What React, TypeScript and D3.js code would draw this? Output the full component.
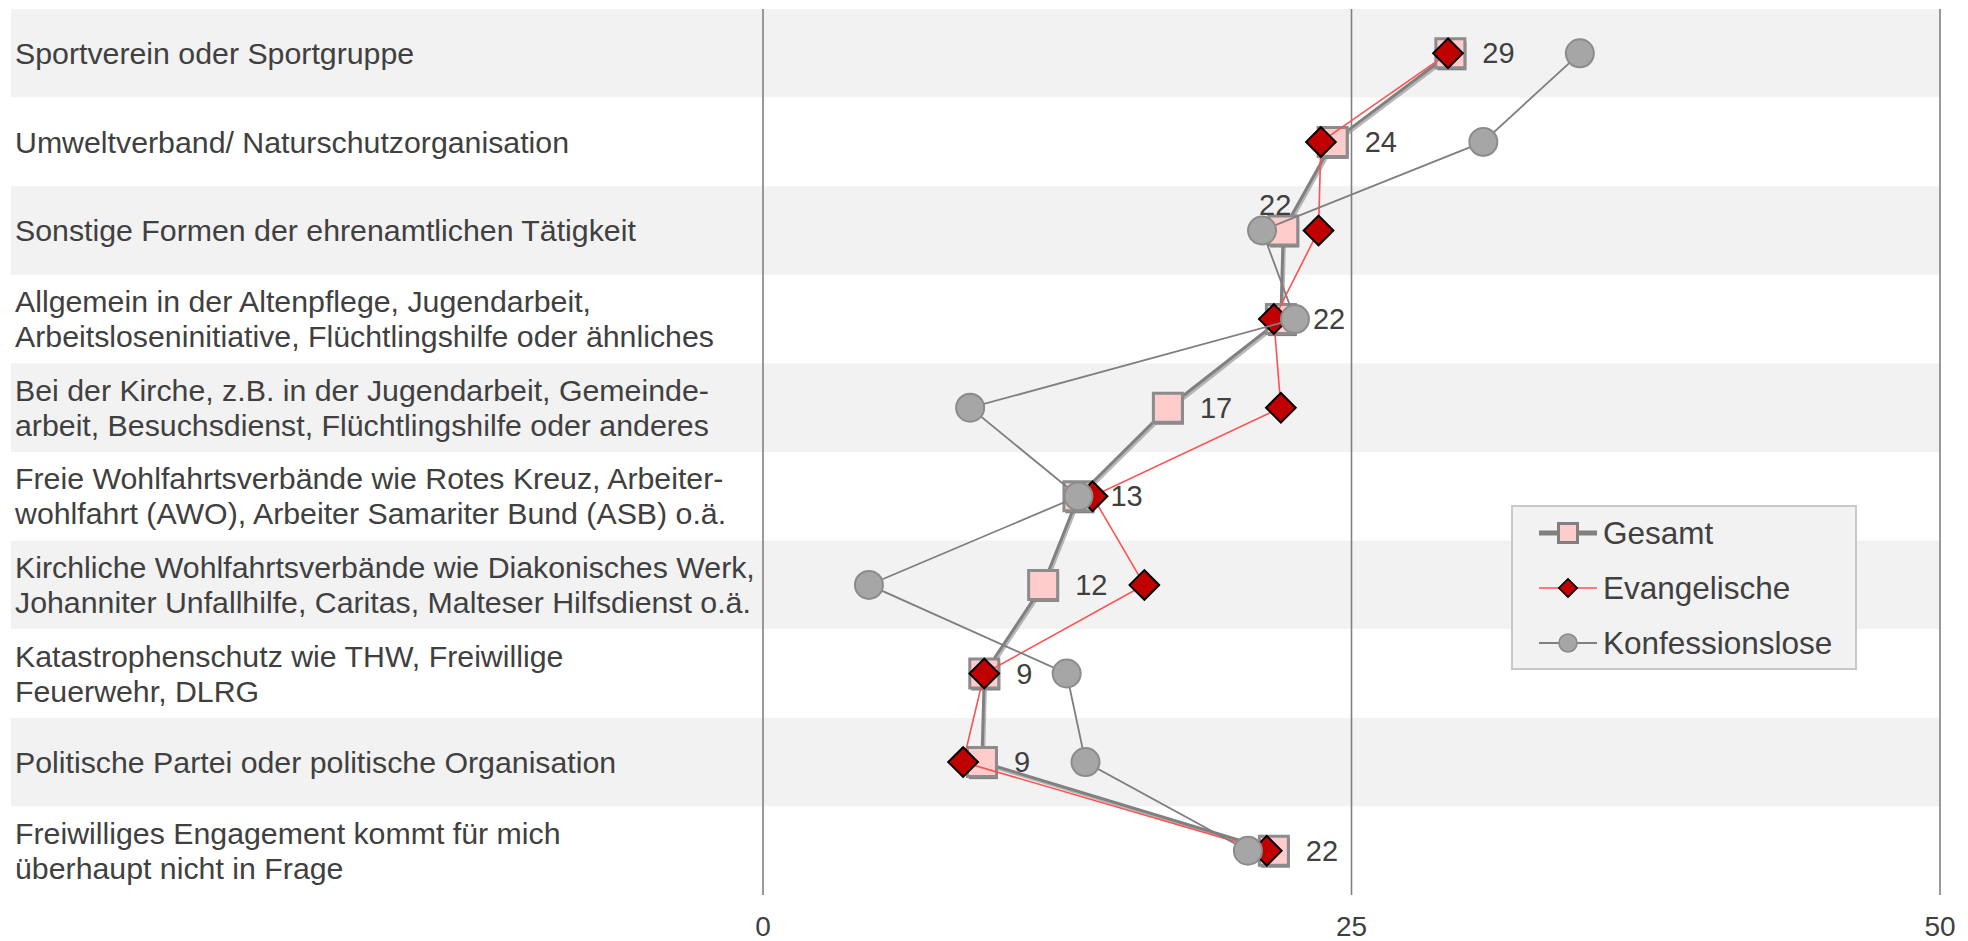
import React from 'react';
import * as d3 from 'd3';

// categories top to bottom, '\n' marks the line break of the axis label
const categories = [
  'Sportverein oder Sportgruppe',
  'Umweltverband/ Naturschutzorganisation',
  'Sonstige Formen der ehrenamtlichen Tätigkeit',
  'Allgemein in der Altenpflege, Jugendarbeit,\nArbeitsloseninitiative, Flüchtlingshilfe oder ähnliches',
  'Bei der Kirche, z.B. in der Jugendarbeit, Gemeinde-\narbeit, Besuchsdienst, Flüchtlingshilfe oder anderes',
  'Freie Wohlfahrtsverbände wie Rotes Kreuz, Arbeiter-\nwohlfahrt (AWO), Arbeiter Samariter Bund (ASB) o.ä.',
  'Kirchliche Wohlfahrtsverbände wie Diakonisches Werk,\nJohanniter Unfallhilfe, Caritas, Malteser Hilfsdienst o.ä.',
  'Katastrophenschutz wie THW, Freiwillige\nFeuerwehr, DLRG',
  'Politische Partei oder politische Organisation',
  'Freiwilliges Engagement kommt für mich\nüberhaupt nicht in Frage',
];

const gesamt = [29.2, 24.2, 22.1, 22.0, 17.2, 13.4, 11.9, 9.4, 9.3, 21.7];
const evangelische = [29.1, 23.7, 23.6, 21.7, 22.0, 14.0, 16.2, 9.4, 8.5, 21.4];
const konfessionslose = [34.7, 30.6, 21.2, 22.6, 8.8, 13.4, 4.5, 12.9, 13.7, 20.6];

const xTicks = [0, 25, 50];
const seriesNames = ['Gesamt', 'Evangelische', 'Konfessionslose'];

const W = 1968;
const H = 941;
const FONT = '"Liberation Sans", Arial, sans-serif';
const TEXT = '#404040';

const x = d3.scaleLinear().domain([0, 50]).range([763, 1940]);
const y = d3.scaleBand<number>().domain(d3.range(categories.length)).range([9, 895]).padding(0);
const cy = (i: number) => (y(i) as number) + y.bandwidth() / 2;

const lineFor = (vals: number[]) =>
  d3.line<number>().x(d => x(d)).y((d, i) => cy(i))(vals) as string;

const squarePath = d3.symbol().type(d3.symbolSquare).size(29 * 29)() as string;
const diamondPath = d3.symbol().type(d3.symbolSquare).size(21 * 21)() as string;
const smallSquare = d3.symbol().type(d3.symbolSquare).size(19 * 19)() as string;
const smallDiamond = d3.symbol().type(d3.symbolSquare).size(13 * 13)() as string;

const App: React.FC = () => {
  const bw = y.bandwidth();
  return (
    <svg width={W} height={H} style={{ position: 'absolute', left: 0, top: 0, display: 'block' }} fontFamily={FONT}>
      <rect width={W} height={H} fill="#ffffff" />
      {/* row bands */}
      {categories.map((c, i) => (
        <rect key={'b' + i} x={11} y={y(i)} width={x(50) - 11} height={bw} fill={i % 2 === 0 ? '#f2f2f2' : '#ffffff'} />
      ))}
      {/* vertical grid */}
      {xTicks.map(t => (
        <line key={'g' + t} x1={x(t)} x2={x(t)} y1={9} y2={895} stroke="#808080" strokeWidth={1.6} />
      ))}
      {xTicks.map(t => (
        <text key={'t' + t} x={x(t)} y={936} textAnchor="middle" fontSize={28} fill={TEXT}>{t}</text>
      ))}
      {/* category labels */}
      {categories.map((c, i) => {
        const lines = c.split('\n');
        const lh = 35;
        const start = cy(i) - ((lines.length - 1) * lh) / 2;
        return (
          <text key={'c' + i} fontSize={30.3} fill={TEXT}>
            {lines.map((l, j) => (
              <tspan key={j} x={15} y={start + j * lh} dy="0.35em">{l}</tspan>
            ))}
          </text>
        );
      })}

      {/* Gesamt */}
      <g transform="translate(1.5,2)">
        <path d={lineFor(gesamt)} fill="none" stroke="#9a9a9a" strokeWidth={3} opacity={0.7} />
      </g>
      <path d={lineFor(gesamt)} fill="none" stroke="#808080" strokeWidth={3} />
      {gesamt.map((v, i) => (
        <g key={'gs' + i} transform={`translate(${x(v)},${cy(i)})`}>
          <path d={squarePath} transform="translate(1.5,2.5)" fill="#7f7f7f" />
          <path d={squarePath} fill="#ffcccc" stroke="#8c8c8c" strokeWidth={3} />
        </g>
      ))}

      {/* Evangelische */}
      <path d={lineFor(evangelische)} fill="none" stroke="#ff5050" strokeWidth={1.6} />
      {evangelische.map((v, i) => (
        <path key={'ev' + i} d={diamondPath} transform={`translate(${x(v)},${cy(i)}) rotate(45)`}
          fill="#c00000" stroke="#000000" strokeWidth={2} />
      ))}

      {/* Konfessionslose */}
      <path d={lineFor(konfessionslose)} fill="none" stroke="#7f7f7f" strokeWidth={1.8} />
      {konfessionslose.map((v, i) => (
        <circle key={'kf' + i} cx={x(v)} cy={cy(i)} r={14} fill="#a6a6a6" stroke="#8c8c8c" strokeWidth={2} />
      ))}

      {/* data labels of Gesamt */}
      {gesamt.map((v, i) => {
        const above = i === 2;
        return (
          <text key={'dl' + i}
            x={above ? x(v) - 8 : x(v) + 32}
            y={above ? cy(i) - 26 : cy(i)}
            dy="0.35em"
            textAnchor={above ? 'middle' : 'start'}
            fontSize={29} fill={TEXT}>
            {Math.round(v)}
          </text>
        );
      })}

      {/* legend */}
      <rect x={1512} y={506} width={344} height={163} fill="#f2f2f2" stroke="#c8c8c8" strokeWidth={2} />
      {seriesNames.map((s, i) => {
        const ly = 533 + i * 55;
        return (
          <g key={'lg' + i}>
            {i === 0 && (
              <>
                <line x1={1539} x2={1597} y1={ly} y2={ly} stroke="#808080" strokeWidth={5} />
                <path d={smallSquare} transform={`translate(1568,${ly})`} fill="#ffcccc" stroke="#808080" strokeWidth={3} />
              </>
            )}
            {i === 1 && (
              <>
                <line x1={1539} x2={1597} y1={ly} y2={ly} stroke="#ff5050" strokeWidth={1.6} />
                <path d={smallDiamond} transform={`translate(1568,${ly}) rotate(45)`} fill="#c00000" stroke="#000" strokeWidth={1.6} />
              </>
            )}
            {i === 2 && (
              <>
                <line x1={1539} x2={1597} y1={ly} y2={ly} stroke="#808080" strokeWidth={1.8} />
                <circle cx={1568} cy={ly} r={9} fill="#a6a6a6" stroke="#8c8c8c" strokeWidth={1.6} />
              </>
            )}
            <text x={1603} y={ly} dy="0.35em" fontSize={31.5} fill={TEXT}>{s}</text>
          </g>
        );
      })}
    </svg>
  );
};

export default App;
